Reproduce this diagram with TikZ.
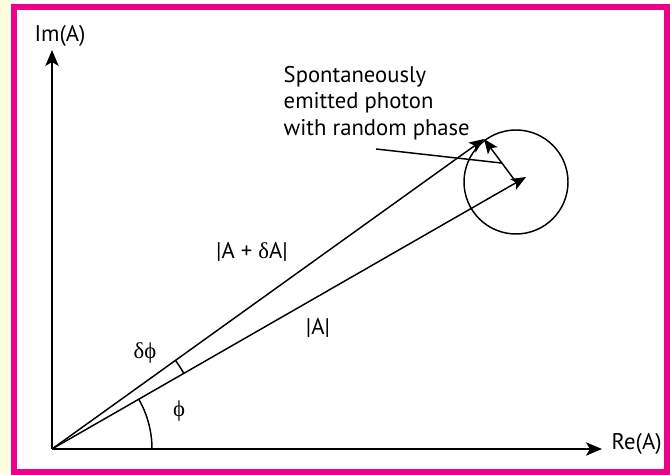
\documentclass[tikz,border=0pt]{standalone}
\usepackage{fontspec}
\setmainfont{PT Sans}
\newfontfamily\greekfont{Liberation Serif}
\usetikzlibrary{arrows.meta,calc,positioning}
\definecolor{FramePink}{RGB}{236,0,140}
\definecolor{PaleYellow}{RGB}{255,255,224}

\begin{document}
\begin{tikzpicture}[
    x=0.75pt, y=0.75pt,
    line width=1.1pt,
    axis/.style={-{Stealth[length=12pt, width=10pt, inset=3pt]}},
    vec/.style={-{Stealth[length=11pt, width=9pt, inset=2.5pt]}},
    lbl/.style={inner sep=0pt, font=\fontsize{17}{20}\selectfont},
  ]
    \useasboundingbox (0,0) rectangle (670,474);
    \fill[PaleYellow] (0,0) rectangle (12,474);
    \draw[FramePink, line width=4.2pt, fill=white] (13.75,2) rectangle (667,467);

    \coordinate (O) at (52,25);
    \coordinate (ytip) at (52,424);
    \coordinate (xtip) at (602,25);
    \coordinate (Atip) at (526,297);
    \coordinate (C) at (516,292);
    \coordinate (P) at (484,335);
    \coordinate (ptrstart) at (376,325);

    \node[lbl] (im) at (60,438) {Im(A)};
    \node[lbl, anchor=west] (re) at (611,30) {Re(A)};
    \node[lbl, align=left, anchor=west] (photon) at (283,371) {Spontaneously\\emitted photon\\with random phase};
    \node[lbl] (sumlbl) at (252,222) {|A + {\greekfont δ}A|};
    \node[lbl] (abslbl) at (318,146) {|A|};
    \node[lbl] (dphi) at (145,121) {\greekfont δϕ};
    \node[lbl] (phi) at (179,63) {\greekfont ϕ};

    \draw[axis] (O) -- (ytip);
    \draw[axis] (O) -- (xtip);
    \draw (C) circle[radius=52];
    \draw[vec] (O) -- (Atip);
    \draw[vec] (O) -- (P);
    \draw[vec] (C) -- (P);
    % angles
    \draw ($(O)+(0:100)$) arc[start angle=0, end angle=29.85, radius=100];
    \draw ($(O)+(29.85:152)$) arc[start angle=29.85, end angle=35.66, radius=152];
    % pointer to the photon
    \coordinate (ptr) at ($(C)!0.44!(P)$);
    \draw (ptrstart) -- (ptr);
\end{tikzpicture}
\end{document}
